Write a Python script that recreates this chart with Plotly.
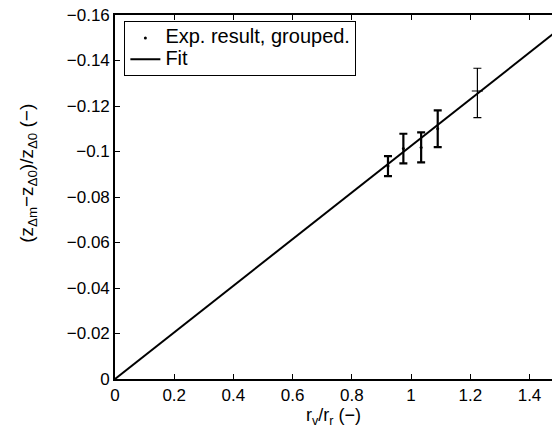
import plotly.graph_objects as go

exp_x = [0.922, 0.974, 1.034, 1.090, 1.224]
exp_y = [-0.0936, -0.1013, -0.1018, -0.1100, -0.1266]
exp_err_up = [0.0044, 0.0065, 0.0066, 0.0081, 0.0117]   # toward more negative
exp_err_down = [0.0044, 0.0065, 0.0066, 0.0081, 0.0100]

# Linear fit through origin
fit_slope = -0.1025
fit_x = [0.0, 1.5]
fit_y = [fit_slope * v for v in fit_x]

x_ticks = [0, 0.2, 0.4, 0.6, 0.8, 1, 1.2, 1.4]
y_ticks = [0, -0.02, -0.04, -0.06, -0.08, -0.1, -0.12, -0.14, -0.16]

FONT = "Liberation Sans, Arial, Helvetica, sans-serif"
LEG = '<span style="font-size:20px">{}</span>'

fig = go.Figure()

# bars 1-4 (thicker)
n = 4
fig.add_trace(go.Scatter(
    x=exp_x[:n], y=exp_y[:n], mode="markers", name=LEG.format("Exp. result, grouped."),
    marker=dict(color="black", size=3, symbol="circle"),
    error_y=dict(type="data", symmetric=False, array=exp_err_up[:n],
                 arrayminus=exp_err_down[:n], color="black", thickness=2.2, width=4),
    showlegend=True,
))
# bar 5 (thinner)
fig.add_trace(go.Scatter(
    x=exp_x[n:], y=exp_y[n:], mode="markers", name="Exp. result, grouped.",
    marker=dict(color="black", size=8, symbol="line-ew", line=dict(color="black", width=1)),
    error_y=dict(type="data", symmetric=False, array=exp_err_up[n:],
                 arrayminus=exp_err_down[n:], color="black", thickness=1.2, width=4),
    showlegend=False,
))
fig.add_trace(go.Scatter(
    x=fit_x, y=fit_y, mode="lines", name=LEG.format("Fit"),
    line=dict(color="black", width=2),
))

fig.update_layout(
    width=552, height=438,
    margin=dict(l=115, r=0, t=15, b=59),
    paper_bgcolor="white", plot_bgcolor="white",
    font=dict(family=FONT, size=17, color="black"),
    legend=dict(
        x=0.021, y=0.983, xanchor="left", yanchor="top",
        bordercolor="black", borderwidth=1.2, bgcolor="white",
        font=dict(family=FONT, size=14, color="black"),
        tracegroupgap=0,
    ),
    xaxis=dict(
        range=[0, 1.476], tickvals=x_ticks, ticks="inside", ticklen=5,
        tickcolor="black", tickwidth=1, showline=True, linecolor="black", linewidth=1.6,
        mirror="ticks", showgrid=False, zeroline=False,
        tickfont=dict(family=FONT, size=17, color="black"),
        title=dict(text="r<sub>v</sub>/r<sub>r</sub> (−)", standoff=4,
                   font=dict(family=FONT, size=18, color="black")),
    ),
    yaxis=dict(
        range=[0, -0.16], tickvals=y_ticks, ticks="inside", ticklen=5,
        tickcolor="black", tickwidth=1, showline=True, linecolor="black", linewidth=1.6,
        mirror=False, showgrid=False, zeroline=False,
        tickfont=dict(family=FONT, size=17, color="black"),
    ),
    annotations=[dict(
        text="(z<sub>Δm</sub>−z<sub>Δ0</sub>)/z<sub>Δ0</sub> (−)",
        textangle=-90, xref="paper", yref="paper",
        x=-0.198, y=0.565, xanchor="center", yanchor="middle",
        showarrow=False, font=dict(family=FONT, size=19, color="black"),
    )],
)

fig.write_html("out.html")
